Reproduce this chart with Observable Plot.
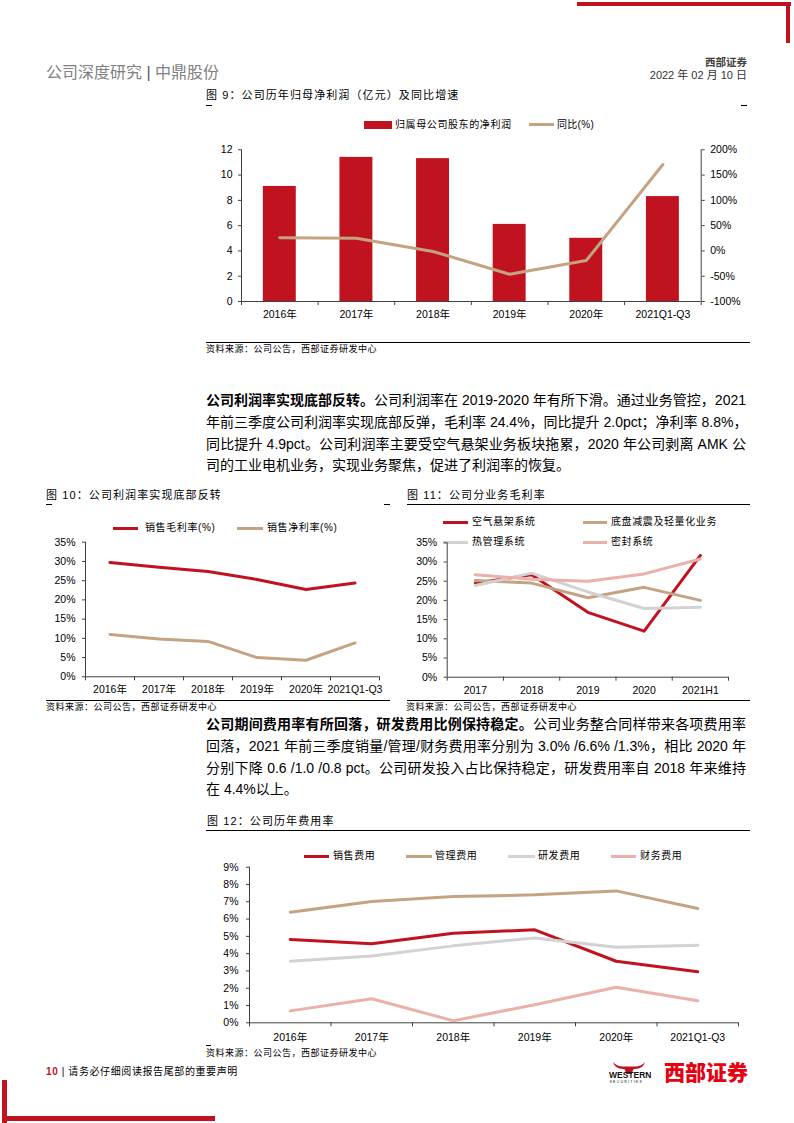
<!DOCTYPE html>
<html><head><meta charset="utf-8">
<script src="https://cdn.jsdelivr.net/npm/d3@7"></script>
<script src="https://cdn.jsdelivr.net/npm/@observablehq/plot@0.6"></script>
<style>
html,body{margin:0;padding:0;background:#fff;}
#page{position:relative;width:794px;height:1123px;overflow:hidden;font-family:"Liberation Sans","Noto Sans CJK SC",sans-serif;color:#000;}
#page div.t{position:absolute;white-space:nowrap;}
.box{position:absolute;}
.para{position:absolute;left:206px;width:540px;font-size:14px;line-height:21.7px;height:21.7px;white-space:nowrap;text-align:justify;text-align-last:justify;}
.para.last{text-align-last:left;}
.chart{position:absolute;}
.chart svg{overflow:visible;}
</style></head>
<body><div id="page"></div>
<script>
// ---------- data ----------
const years6 = ["2016年","2017年","2018年","2019年","2020年","2021Q1-Q3"];
const fig9Names = ["归属母公司股东的净利润", "同比(%)"];
const netProfit = [9.1, 11.4, 11.3, 6.1, 5.0, 8.3];
const netProfitYoY = [26, 25, -1, -46, -19, 171];
const ticks9L = [0, 2, 4, 6, 8, 10, 12];
const ticks9R = [-100, -50, 0, 50, 100, 150, 200];

const fig10Names = ["销售毛利率(%)", "销售净利率(%)"];
const grossMargin = [29.7, 28.5, 27.4, 25.3, 22.7, 24.4];
const netMargin = [11.0, 9.8, 9.2, 5.0, 4.3, 8.8];
const ticksPct35 = [0, 5, 10, 15, 20, 25, 30, 35];

const years5 = ["2017", "2018", "2019", "2020", "2021H1"];
const fig11Names = ["空气悬架系统", "底盘减震及轻量化业务", "热管理系统", "密封系统"];
const airSuspension = [24.5, 26.7, 16.9, 12.0, 31.7];
const chassis = [25.2, 24.5, 20.7, 23.4, 20.0];
const thermal = [23.9, 27.1, 22.2, 17.9, 18.2];
const sealing = [26.7, 25.5, 25.0, 26.9, 30.8];

const fig12Names = ["销售费用", "管理费用", "研发费用", "财务费用"];
const sellingExp = [4.82, 4.57, 5.18, 5.38, 3.56, 2.95];
const adminExp = [6.40, 7.01, 7.30, 7.40, 7.63, 6.61];
const rdExp = [3.56, 3.87, 4.45, 4.91, 4.37, 4.49];
const financeExp = [0.69, 1.39, 0.12, 1.04, 2.06, 1.27];
const ticksPct9 = [0, 1, 2, 3, 4, 5, 6, 7, 8, 9];

// ---------- style ----------
const RED = "#C0121F", TAN = "#C4A383", GRAY = "#D2D2D2", PINK = "#EBB0A9", AX = "#404040";
const FONT = '"Liberation Sans","Noto Sans CJK SC",sans-serif';
const page = document.getElementById("page");

function addText(html, x, yc, o = {}) {
  const d = document.createElement("div");
  d.className = "t";
  const fs = o.size || 10, lh = o.lh || Math.round(fs * 1.4);
  d.style.fontSize = fs + "px";
  d.style.lineHeight = lh + "px";
  d.style.top = (yc - lh / 2) + "px";
  if (o.right) d.style.right = (794 - x) + "px"; else d.style.left = x + "px";
  if (o.color) d.style.color = o.color;
  if (o.weight) d.style.fontWeight = o.weight;
  if (o.ls != null) d.style.letterSpacing = o.ls + "px";
  d.innerHTML = html;
  page.appendChild(d);
  return d;
}
function addBox(x, y, w, h, color) {
  const d = document.createElement("div");
  d.className = "box";
  Object.assign(d.style, {left: x + "px", top: y + "px", width: w + "px", height: h + "px", background: color});
  page.appendChild(d);
}
function addPara(lines, y0, lh) {
  lines.forEach((l, k) => {
    const d = document.createElement("div");
    d.className = "para" + (k === lines.length - 1 ? " last" : "");
    d.style.top = (y0 + k * lh - lh / 2) + "px";
    d.innerHTML = l;
    page.appendChild(d);
  });
}
function legendLine(x1, x2, y, color, label, tx) {
  addBox(x1, y - 1.5, x2 - x1, 3, color);
  addText(label, tx, y, {size: 10, ls: 0.6});
}
function place(svg, x, y) {
  const w = document.createElement("div");
  w.className = "chart";
  w.style.left = x + "px"; w.style.top = y + "px";
  w.appendChild(svg);
  page.appendChild(w);
}
const plotStyle = {fontFamily: FONT, fontSize: "10.5px", color: "#000", background: "transparent", overflow: "visible"};

function axesMarks(cats, yTicks, fmt, padY, padX) {
  const n = cats.length;
  return [
    Plot.axisY({ticks: yTicks, tickSize: 3, tickPadding: padY, tickFormat: fmt, stroke: AX}),
    Plot.axisX({ticks: d3.range(n + 1), tickSize: 4, tickFormat: () => "", stroke: AX}),
    Plot.axisX({ticks: d3.range(n).map(i => i + 0.5), tickSize: 0, tickPadding: padX, tickFormat: d => cats[Math.floor(d)]}),
    Plot.ruleX([0], {stroke: AX}),
    Plot.ruleY([0], {stroke: AX})
  ];
}
function seriesRows(names, arrays) {
  const rows = [];
  names.forEach((nm, s) => arrays[s].forEach((v, i) => rows.push({name: nm, i, v})));
  return rows;
}

// ---------- page decorations ----------
addBox(577, 2, 214, 4, RED);
addBox(786, 2, 4, 41, RED);
addText("公司深度研究 <span style='color:#555'>|</span> 中鼎股份", 46, 73, {size: 16, color: "#808080", lh: 22});
addText("西部证券", 747, 62, {size: 10.5, weight: 700, color: "#404040", right: true});
addText("2022 年 02 月 10 日", 747, 75.5, {size: 11, color: "#333", right: true});

// ---------- Figure 9 ----------
addText("图 9：公司历年归母净利润（亿元）及同比增速", 206, 95, {size: 11, ls: 1.1});
addBox(206, 105, 6, 1.2, "#000"); addBox(741, 105, 6, 1.2, "#000");
addBox(364, 120.5, 28, 8, RED);
addText(fig9Names[0], 395, 124.5, {size: 10, ls: 0.6});
addBox(529, 123, 25, 3, TAN);
addText(fig9Names[1], 557, 124.5, {size: 10, ls: 0.3});

const rows9 = years6.map((c, i) => ({i, v: netProfit[i], yoy: netProfitYoY[i]}));
const toLeft = v => (v + 100) / 25;   // right-axis % onto left scale
const c9 = Plot.plot({
  width: 560, height: 195, marginLeft: 51, marginRight: 49.3, marginTop: 14.3, marginBottom: 29,
  x: {type: "linear", domain: [0, 6], label: null},
  y: {domain: [0, 12], label: null},
  style: plotStyle,
  marks: [
    Plot.rect(rows9, {x1: d => d.i + 0.5 - 0.215, x2: d => d.i + 0.5 + 0.215, y1: d => 0, y2: "v", fill: RED}),
    Plot.line(rows9, {x: d => d.i + 0.5, y: d => toLeft(d.yoy), stroke: TAN, strokeWidth: 3, strokeLinejoin: "round"}),
    ...axesMarks(years6, ticks9L, d => d, 6, 9),
    Plot.axisY({anchor: "right", ticks: ticks9R.map(toLeft), tickSize: 3, tickPadding: 6, stroke: AX,
      tickFormat: d => Math.round(d * 25 - 100) + "%"}),
    Plot.ruleX([6], {stroke: AX})
  ]
});
place(c9, 190, 135);
addBox(206, 341.5, 544, 1.2, "#000");
addText("资料来源：公司公告，西部证券研发中心", 206, 349.5, {size: 9, ls: 0.5});

// ---------- paragraph 1 ----------
addPara([
  "<b>公司利润率实现底部反转。</b>公司利润率在 2019-2020 年有所下滑。通过业务管控，2021",
  "年前三季度公司利润率实现底部反弹，毛利率 24.4%，同比提升 2.0pct；净利率 8.8%，",
  "同比提升 4.9pct。公司利润率主要受空气悬架业务板块拖累，2020 年公司剥离 AMK 公",
  "司的工业电机业务，实现业务聚焦，促进了利润率的恢复。"
], 401, 21.7);

// ---------- Figure 10 ----------
addText("图 10：公司利润率实现底部反转", 46, 495, {size: 11, ls: 1.1});
addBox(46, 503.5, 6, 1.2, "#000"); addBox(384, 503.5, 6, 1.2, "#000");
legendLine(112.7, 138, 528, RED, fig10Names[0], 145);
legendLine(236.7, 263, 528, TAN, fig10Names[1], 267);
const rows10 = seriesRows(fig10Names, [grossMargin, netMargin]);
const c10 = Plot.plot({
  width: 370, height: 165, marginLeft: 55, marginRight: 21, marginTop: 6.7, marginBottom: 23.7,
  x: {type: "linear", domain: [0, 6], label: null},
  y: {domain: [0, 35], label: null},
  style: plotStyle,
  marks: [
    ...axesMarks(years6, ticksPct35, d => d + "%", 7, 9),
    Plot.line(rows10, {x: d => d.i + 0.5, y: "v", z: "name", stroke: d => d.name, strokeWidth: 3, strokeLinejoin: "round"})
  ],
  color: {domain: fig10Names, range: [RED, TAN]}
});
place(c10, 30, 535);
addBox(46, 699.5, 344, 1.2, "#000");
addText("资料来源：公司公告，西部证券研发中心", 46, 707, {size: 9, ls: 0.5});

// ---------- Figure 11 ----------
addText("图 11：公司分业务毛利率", 407, 495, {size: 11, ls: 1.1});
addBox(407, 503.5, 343, 1.2, "#000");
legendLine(443, 468, 522, RED, fig11Names[0], 472);
legendLine(583, 607, 522, TAN, fig11Names[1], 611);
legendLine(443, 468, 542, GRAY, fig11Names[2], 472);
legendLine(583, 607, 542, PINK, fig11Names[3], 611);
const rows11 = seriesRows(fig11Names, [airSuspension, chassis, thermal, sealing]);
const c11 = Plot.plot({
  width: 360, height: 165, marginLeft: 46.7, marginRight: 32, marginTop: 7.3, marginBottom: 23.3,
  x: {type: "linear", domain: [0, 5], label: null},
  y: {domain: [0, 35], label: null},
  style: plotStyle,
  color: {domain: fig11Names, range: [RED, TAN, GRAY, PINK]},
  marks: [
    ...axesMarks(years5, ticksPct35, d => d + "%", 7, 9),
    Plot.line(rows11, {x: d => d.i + 0.5, y: "v", z: "name", stroke: d => d.name, strokeWidth: 3, strokeLinejoin: "round"})
  ]
});
place(c11, 400, 535);
addBox(407, 699.5, 343, 1.2, "#000");
addText("资料来源：公司公告，西部证券研发中心", 406, 707, {size: 9, ls: 0.5});

// ---------- paragraph 2 ----------
addPara([
  "<b>公司期间费用率有所回落，研发费用比例保持稳定。</b>公司业务整合同样带来各项费用率",
  "回落，2021 年前三季度销量/管理/财务费用率分别为 3.0% /6.6% /1.3%，相比 2020 年",
  "分别下降 0.6 /1.0 /0.8 pct。公司研发投入占比保持稳定，研发费用率自 2018 年来维持",
  "在 4.4%以上。"
], 725, 21.7);

// ---------- Figure 12 ----------
addText("图 12：公司历年费用率", 207, 821.5, {size: 11, ls: 1.1});
addBox(206, 830, 544, 1.2, "#000");
legendLine(303.6, 329, 856, RED, fig12Names[0], 333);
legendLine(406, 432, 856, TAN, fig12Names[1], 435);
legendLine(508, 534.6, 856, GRAY, fig12Names[2], 538);
legendLine(611, 636, 856, PINK, fig12Names[3], 640);
const rows12 = seriesRows(fig12Names, [sellingExp, adminExp, rdExp, financeExp]);
const c12 = Plot.plot({
  width: 560, height: 190, marginLeft: 59, marginRight: 12, marginTop: 6.7, marginBottom: 27.7,
  x: {type: "linear", domain: [0, 6], label: null},
  y: {domain: [0, 9], label: null},
  style: plotStyle,
  color: {domain: fig12Names, range: [RED, TAN, GRAY, PINK]},
  marks: [
    ...axesMarks(years6, ticksPct9, d => d + "%", 8, 10.5),
    Plot.line(rows12, {x: d => d.i + 0.5, y: "v", z: "name", stroke: d => d.name, strokeWidth: 3, strokeLinejoin: "round"})
  ]
});
place(c12, 190, 860);
addBox(206, 1044.5, 5, 1.2, "#000");
addText("资料来源：公司公告，西部证券研发中心", 206, 1053, {size: 9, ls: 0.5});

// ---------- footer ----------
addText("<b style='color:" + RED + "'>10</b> | 请务必仔细阅读报告尾部的重要声明", 46, 1071.5, {size: 10, ls: 0.6});
addBox(2, 1080, 5, 43, RED);
addBox(2, 1116, 213, 5, RED);
const bull = document.createElement("div");
bull.className = "box";
Object.assign(bull.style, {left: "612px", top: "1060px", width: "34px", height: "12px"});
bull.innerHTML = '<svg width="34" height="12" viewBox="0 0 34 12"><path d="M1 0 Q3 7 11 7 L23 7 Q31 7 33 0 Q29 4.5 23 4.5 L11 4.5 Q5 4.5 1 0Z" fill="' + RED + '"/><path d="M12 6 L22 6 L19.5 12 L14.5 12Z" fill="' + RED + '"/></svg>';
page.appendChild(bull);
addText("WESTERN", 609, 1075.5, {size: 8.5, weight: 700, color: "#111", lh: 9});
addText("SECURITIES", 609.5, 1081.5, {size: 3.6, ls: 1.2, color: "#111", lh: 4});
addText("西部证券", 748, 1072.5, {size: 21, weight: 900, color: "#E60012", right: true, lh: 24});
</script>
</body></html>
